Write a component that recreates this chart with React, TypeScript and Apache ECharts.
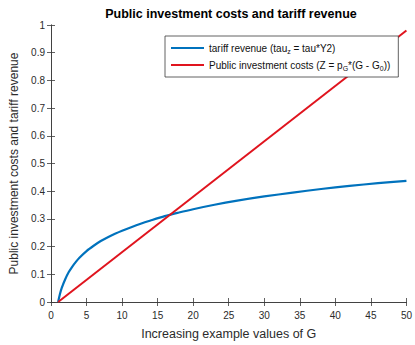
import React, { useEffect, useRef } from "react";
import * as echarts from "echarts";

// G values and the tariff revenue
const gValues = [1, 1.25, 1.5, 2, 2.5, 3, 3.5, 4, 5, 6, 7, 8, 9, 10, 12, 14, 16, 18, 20, 23, 26, 30, 34, 38, 42, 46, 50];
const tariffRevenue = [0, 0.028, 0.05, 0.082, 0.108, 0.128, 0.145, 0.16, 0.184, 0.203, 0.22, 0.234, 0.246, 0.257, 0.277, 0.294, 0.31, 0.323, 0.335, 0.351, 0.365, 0.381, 0.395, 0.408, 0.419, 0.429, 0.437];

// Public investment costs grow linearly from G0 = 1
const gCost = [1, 50];
const investmentCost = [0, 0.98];

const xTicks = { min: 0, max: 50, interval: 5 };
const yTicks = { min: 0, max: 1, interval: 0.1 };

const FONT = "'Liberation Sans', Arial, sans-serif";
const AXIS_COLOR = "#3a3a3a";
const LABEL_COLOR = "#2b2b2b";
const BLUE = "#0072BD";
const RED = "#E0141E";

const NAME_TARIFF = "tariff";
const NAME_COST = "cost";

export default function App() {
  const ref = useRef<HTMLDivElement>(null);

  useEffect(() => {
    if (!ref.current) return;
    const chart = echarts.init(ref.current, undefined, { renderer: "svg" });

    const axisLine = { show: true, lineStyle: { color: AXIS_COLOR, width: 0.8 } };
    const axisTick = { show: true, inside: true, length: 4, lineStyle: { color: AXIS_COLOR, width: 0.8 } };

    const rich = {
      t: { fontSize: 10, fontFamily: FONT, color: "#111", lineHeight: 12 },
      s: { fontSize: 7, fontFamily: FONT, color: "#111", padding: [7, 0, 0, 0], lineHeight: 12 },
    };

    chart.setOption({
      animation: false,
      backgroundColor: "#fff",
      textStyle: { fontFamily: FONT },
      title: {
        text: "Public investment costs and tariff revenue",
        left: 226,
        textAlign: "center",
        top: 2,
        textStyle: { fontSize: 12.5, fontWeight: "bold", color: "#000", fontFamily: FONT },
      },
      legend: {
        orient: "vertical",
        left: 165,
        top: 36,
        width: 233,
        z: 10,
        padding: [5, 8, 5, 6],
        backgroundColor: "#fff",
        borderColor: AXIS_COLOR,
        borderWidth: 0.8,
        icon: "rect",
        itemWidth: 33,
        itemHeight: 2.2,
        itemGap: 3,
        data: [NAME_TARIFF, NAME_COST],
        textStyle: { rich },
        formatter: (name: string) =>
          name === NAME_TARIFF
            ? "{t|tariff revenue (tau}{s|z}{t| = tau*Y2)}"
            : "{t|Public investment costs (Z = p}{s|G}{t|*(G - G}{s|0}{t|))}",
      },
      grid: { left: 45, right: 7, top: 25, bottom: 34, containLabel: false },
      xAxis: [
        {
          type: "value",
          ...xTicks,
          name: "Increasing example values of G",
          nameLocation: "middle",
          nameGap: 25,
          nameTextStyle: { fontSize: 12.5, color: LABEL_COLOR, fontFamily: FONT },
          axisLine,
          axisTick,
          splitLine: { show: false },
          axisLabel: { fontSize: 10, color: LABEL_COLOR, margin: 8, fontFamily: FONT },
        },
        {
          type: "value",
          ...xTicks,
          position: "top",
          axisLine,
          axisTick,
          splitLine: { show: false },
          axisLabel: { show: false },
        },
      ],
      yAxis: [
        {
          type: "value",
          ...yTicks,
          name: "Public investment costs and tariff revenue",
          nameLocation: "middle",
          nameGap: 31,
          nameTextStyle: { fontSize: 12, color: LABEL_COLOR, fontFamily: FONT },
          axisLine,
          axisTick,
          splitLine: { show: false },
          axisLabel: {
            fontSize: 10,
            color: LABEL_COLOR,
            margin: 6,
            fontFamily: FONT,
            formatter: (v: number) => String(Math.round(v * 10) / 10),
          },
        },
        {
          type: "value",
          ...yTicks,
          position: "right",
          axisLine,
          axisTick,
          splitLine: { show: false },
          axisLabel: { show: false },
        },
      ],
      series: [
        {
          name: NAME_TARIFF,
          type: "line",
          data: gValues.map((g, i) => [g, tariffRevenue[i]]),
          smooth: 0.3,
          showSymbol: false,
          symbol: "none",
          lineStyle: { color: BLUE, width: 2.2 },
          itemStyle: { color: BLUE },
          z: 2,
        },
        {
          name: NAME_COST,
          type: "line",
          data: gCost.map((g, i) => [g, investmentCost[i]]),
          showSymbol: false,
          symbol: "none",
          lineStyle: { color: RED, width: 2 },
          itemStyle: { color: RED },
          z: 3,
        },
      ],
    });

    return () => chart.dispose();
  }, []);

  return (
    <div
      ref={ref}
      style={{ position: "fixed", left: 0, top: 0, width: 415, height: 345, background: "#fff" }}
    />
  );
}
